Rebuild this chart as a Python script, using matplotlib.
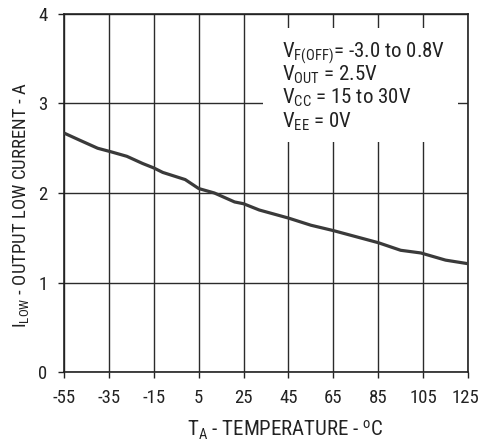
import numpy as np
import matplotlib
matplotlib.use("Agg")
import matplotlib.pyplot as plt
from matplotlib.patches import Rectangle
from matplotlib.transforms import ScaledTranslation

# curve
temp_c = [-55, -48, -40, -34, -27, -20, -15, -11, -1, 5, 12, 21, 25, 32,
          45, 55, 65, 85, 95, 104, 115, 125]
i_low = [2.67, 2.59, 2.50, 2.46, 2.41, 2.33, 2.28, 2.23, 2.15, 2.05, 2.00,
         1.90, 1.88, 1.81, 1.72, 1.64, 1.58, 1.445, 1.36, 1.33, 1.25, 1.21]

x_ticks = [-55, -35, -15, 5, 25, 45, 65, 85, 105, 125]
y_ticks = [0, 1, 2, 3, 4]

notes = [r"V$_{\mathrm{F(OFF)}}$= -3.0 to 0.8V",
         r"V$_{\mathrm{OUT}}$ = 2.5V",
         r"V$_{\mathrm{CC}}$ = 15 to 30V",
         r"V$_{\mathrm{EE}}$ = 0V"]

FONT = ["Roboto Condensed", "Liberation Sans", "DejaVu Sans"]
plt.rcParams["font.family"] = FONT
plt.rcParams["mathtext.fontset"] = "custom"
plt.rcParams["mathtext.rm"] = FONT[0]
plt.rcParams["mathtext.it"] = FONT[0]
plt.rcParams["mathtext.bf"] = FONT[0]
plt.rcParams["axes.unicode_minus"] = False

fig = plt.figure(figsize=(4.8, 4.44), dpi=100)
ax = fig.add_axes([64/480, 1 - 372/444, 404/480, 358/444])

ax.plot(temp_c, i_low, color="#3a3a3a", lw=2.3, solid_capstyle="butt", zorder=4)

ax.set_xlim(-55, 125)
ax.set_ylim(0, 4)
ax.set_xticks(x_ticks)
ax.set_yticks(y_ticks)
ax.tick_params(direction="out", length=4, width=1, labelsize=13.5,
               pad=8, colors="#222222")
ax.grid(True, color="#2b2b2b", lw=1.0)
ax.set_axisbelow(True)
for s in ax.spines.values():
    s.set_color("#222222")
    s.set_linewidth(1.2)

# last x label sits right at the edge, nudge it in a little
last = ax.get_xticklabels()[-1]
last.set_transform(last.get_transform() + ScaledTranslation(-3/100, 0, fig.dpi_scale_trans))

# white patch behind the conditions text
ax.add_patch(Rectangle((0.4926, 0.6425), 0.4824, 0.3185, transform=ax.transAxes,
                       facecolor="white", edgecolor="none", zorder=2))
for k, line in enumerate(notes):
    ax.text((282 - 64)/404, (372 - 57 - 23.5*k)/358, line, transform=ax.transAxes,
            fontsize=15, color="#222222", ha="left", va="baseline", zorder=3)

ax.set_xlabel(r"T$_{\mathrm{A}}$ - TEMPERATURE - $^{\mathrm{o}}$C",
              fontsize=15, color="#222222")
ax.set_ylabel(r"I$_{\mathrm{LOW}}$ - OUTPUT LOW CURRENT - A",
              fontsize=13.5, color="#222222")
ax.xaxis.set_label_coords((285 - 64)/404, (372 - 419)/358)
ax.yaxis.set_label_coords((31 - 64)/404, (372 - 205)/358)

fig.savefig("out.png", dpi=100)
